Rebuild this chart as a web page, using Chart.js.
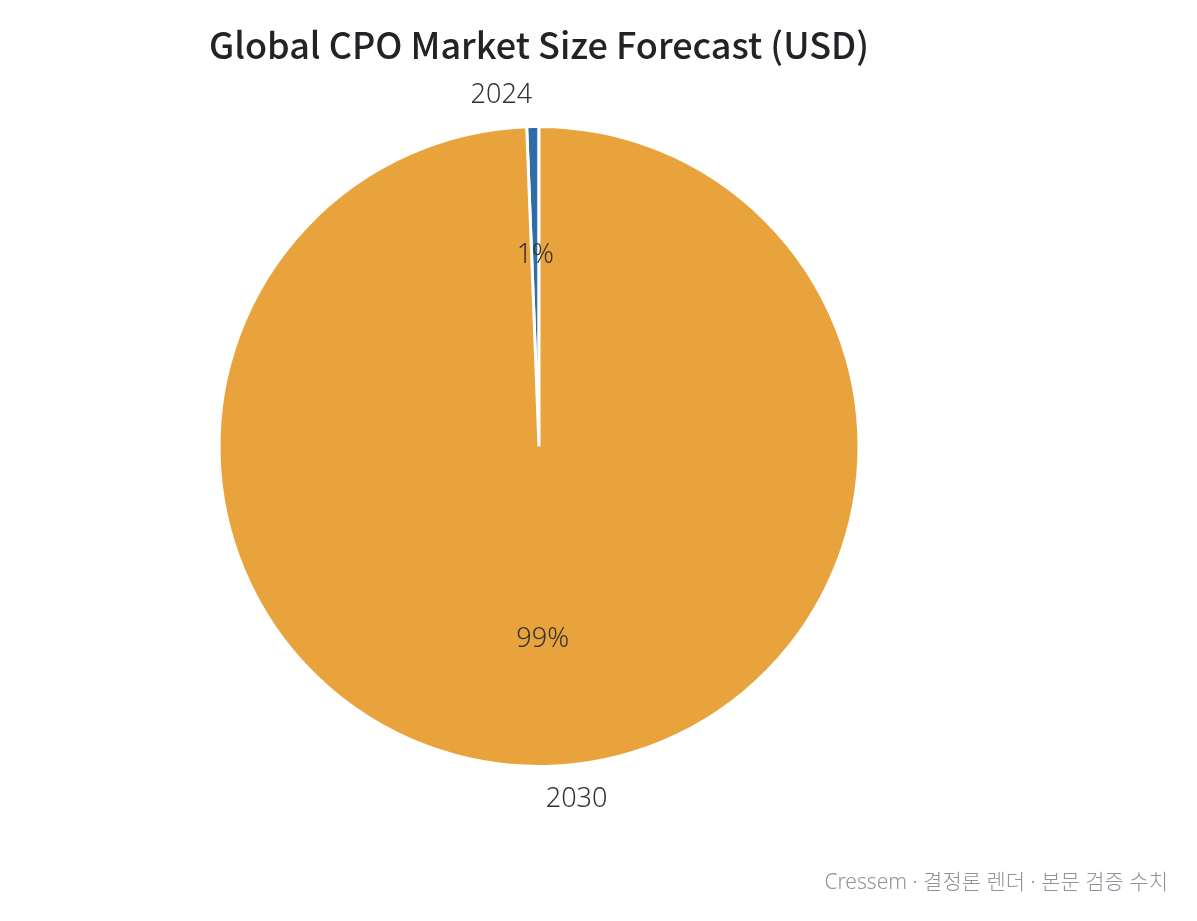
<!DOCTYPE html>
<html>
<head>
<meta charset="utf-8">
<script src="https://cdn.jsdelivr.net/npm/chart.js@4/dist/chart.umd.min.js"></script>
<style>
  html, body { margin: 0; padding: 0; background: #fff; }
  #wrap { width: 1197px; height: 921px; }
</style>
</head>
<body>
<div id="wrap"><canvas id="pie" width="1197" height="921"></canvas></div>
<script>
// values in billion USD
const categories = ['2024', '2030'];
const marketSize = [0.05, 8.1];
const sliceColors = ['#2d6ca8', '#e8a33c'];
const chartTitle = 'Global CPO Market Size Forecast (USD)';
const footerText = 'Cressem · 결정론 렌더 · 본문 검증 수치';

const TITLE_FONT = '"Noto Sans CJK KR", sans-serif';
const FONT = '"Noto Sans", "Noto Sans CJK KR", sans-serif';
const total = marketSize.reduce((a, b) => a + b, 0);
// first slice ends at 12 o'clock, drawn counter-clockwise like the original
const startRotation = -360 * marketSize[0] / total;

const textPlugin = {
  id: 'pieText',
  afterDraw(chart) {
    const ctx = chart.ctx;
    const arcs = chart.getDatasetMeta(0).data;
    ctx.save();

    // title
    ctx.fillStyle = '#222326';
    ctx.font = '500 36px ' + TITLE_FONT;
    ctx.textAlign = 'center';
    ctx.textBaseline = 'middle';
    ctx.fillText(chartTitle, arcs[0].x, 45);

    arcs.forEach((arc, i) => {
      const mid = (arc.startAngle + arc.endAngle) / 2;
      const r = arc.outerRadius;
      const cx = Math.cos(mid), cy = Math.sin(mid);

      // category label outside
      ctx.font = '300 27px ' + FONT;
      ctx.fillStyle = '#333333';
      ctx.textAlign = cx < 0 ? 'right' : 'left';
      ctx.fillText(categories[i], arc.x + cx * r * 1.1, arc.y + cy * r * 1.1 + 1);

      // percentage inside
      const pct = Math.round(marketSize[i] / total * 100) + '%';
      ctx.textAlign = 'center';
      ctx.fillText(pct, arc.x + cx * r * 0.6, arc.y + cy * r * 0.6 + 1);
    });

    // footer
    ctx.font = '300 21px ' + FONT;
    ctx.fillStyle = '#8e939b';
    ctx.textAlign = 'right';
    ctx.fillText(footerText, 1168, 883);
    ctx.restore();
  }
};

new Chart(document.getElementById('pie'), {
  type: 'pie',
  data: {
    labels: categories,
    datasets: [{
      data: marketSize,
      backgroundColor: sliceColors,
      borderColor: '#ffffff',
      borderWidth: 3,
      radius: 320
    }]
  },
  options: {
    responsive: false,
    animation: false,
    rotation: startRotation,
    layout: { padding: { left: 220, right: 339, top: 127, bottom: 155 } },
    plugins: {
      legend: { display: false },
      tooltip: { enabled: false },
      title: { display: false }
    }
  },
  plugins: [textPlugin]
});
</script>
</body>
</html>
